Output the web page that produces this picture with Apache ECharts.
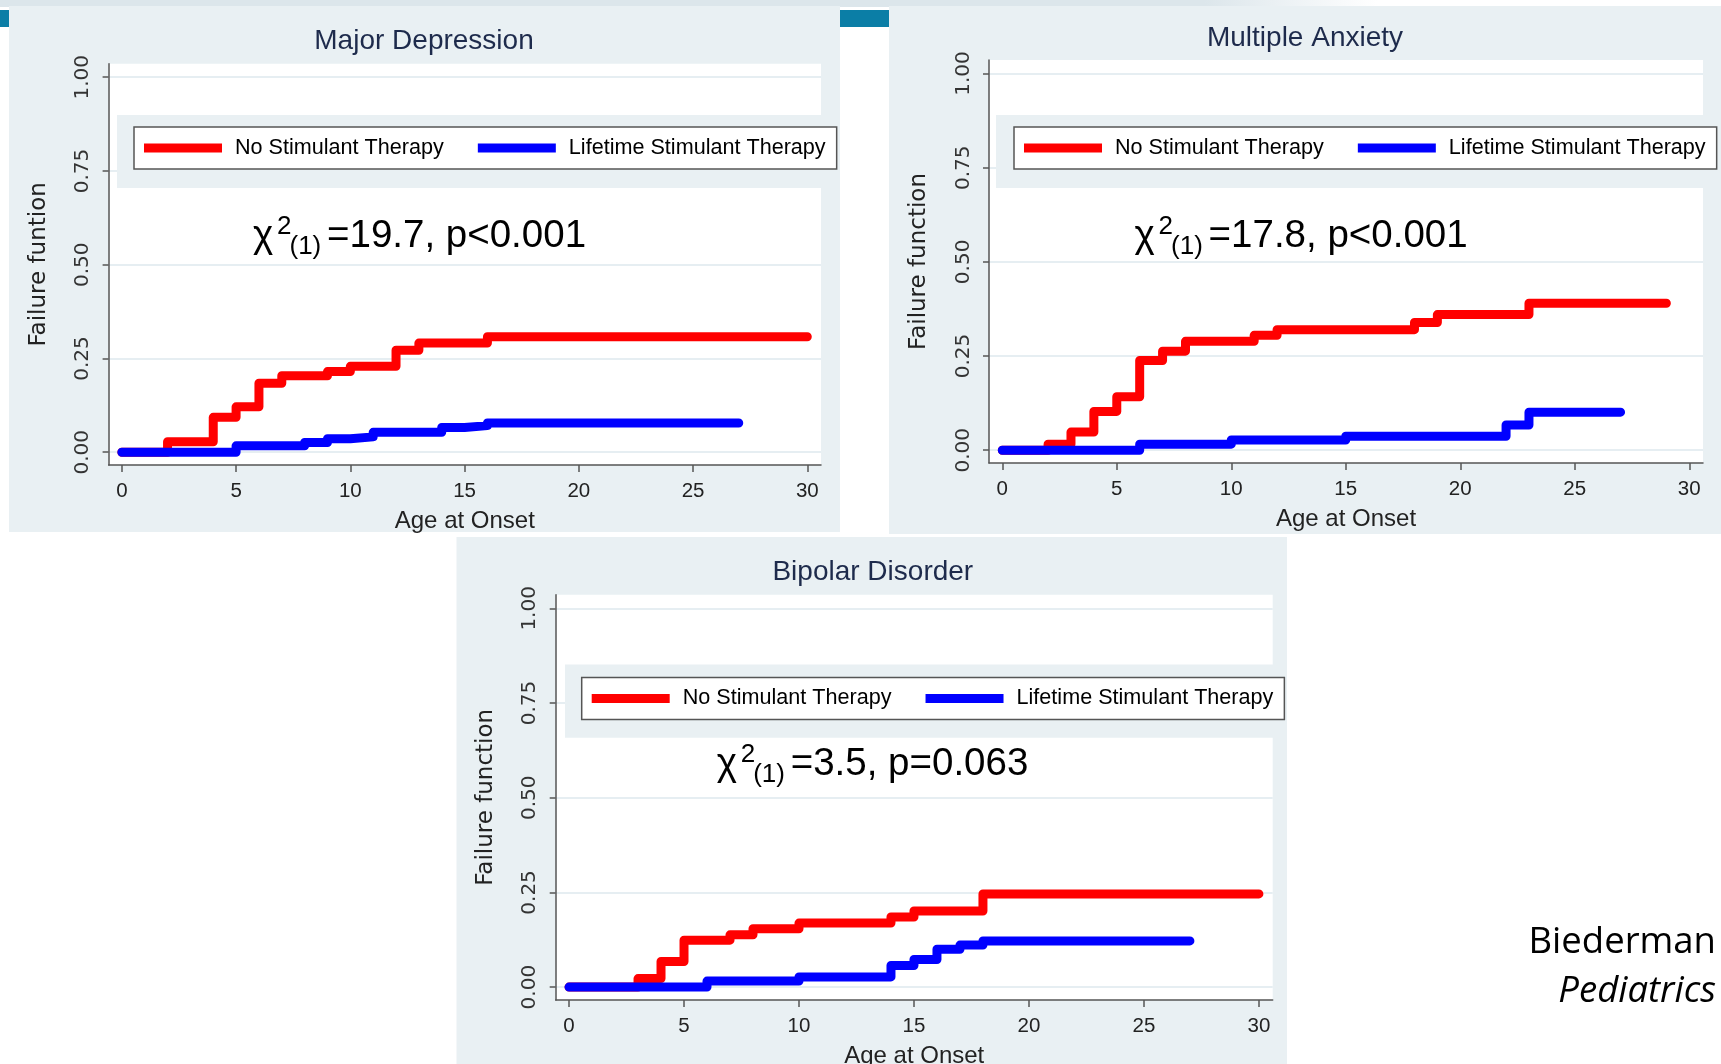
<!DOCTYPE html>
<html><head><meta charset="utf-8">
<script src="https://cdn.jsdelivr.net/npm/echarts@6/dist/echarts.min.js"></script>
<style>html,body{margin:0;padding:0;background:#fff}#c{width:1721px;height:1064px}</style>
</head><body><div id="c"></div><script>
// ---------- data ----------
const xTicks = [0, 5, 10, 15, 20, 25, 30];
const yTicks = [0, 0.25, 0.5, 0.75, 1];
const seriesNames = ['No Stimulant Therapy', 'Lifetime Stimulant Therapy'];
const panelTitles = ['Major Depression', 'Multiple Anxiety', 'Bipolar Disorder'];
const yAxisNames = ['Failure funtion', 'Failure function', 'Failure function'];
const xAxisName = 'Age at Onset';
const chiStats = ['=19.7, p<0.001', '=17.8, p<0.001', '=3.5, p=0.063'];
const citeLine1 = 'Biederman';
const citeLine2 = 'Pediatrics';

// Major Depression
const mdNoX = [0, 2, 4, 5, 6, 7, 9, 10, 12, 13, 16, 30];
const mdNoY = [0, 0.028, 0.093, 0.121, 0.184, 0.204, 0.215, 0.229, 0.272, 0.291, 0.308, 0.308];
const mdLtX = [0, 5, 8, 9, 10, 11, 14, 15, 16, 27];
const mdLtY = [0, 0.017, 0.026, 0.036, 0.041, 0.053, 0.066, 0.071, 0.078, 0.078];
// Multiple Anxiety
const maNoX = [0, 2, 3, 4, 5, 6, 7, 8, 11, 12, 18, 19, 23, 29];
const maNoY = [0, 0.016, 0.048, 0.103, 0.142, 0.238, 0.263, 0.289, 0.305, 0.320, 0.339, 0.360, 0.390, 0.390];
const maLtX = [0, 6, 10, 15, 22, 23, 27];
const maLtY = [0, 0.016, 0.027, 0.037, 0.067, 0.101, 0.101];
// Bipolar Disorder
const bpNoX = [0, 3, 4, 5, 7, 8, 10, 14, 15, 18, 30];
const bpNoY = [0, 0.0225, 0.0675, 0.124, 0.138, 0.154, 0.169, 0.185, 0.201, 0.246, 0.246];
const bpLtX = [0, 6, 10, 14, 15, 16, 17, 18, 27];
const bpLtY = [0, 0.016, 0.027, 0.057, 0.073, 0.100, 0.111, 0.122, 0.122];

const panelData = [
  [[mdNoX, mdNoY], [mdLtX, mdLtY]],
  [[maNoX, maNoY], [maLtX, maLtY]],
  [[bpNoX, bpNoY], [bpLtX, bpLtY]]
];

// ---------- layout / style ----------
const colors = ['#ff0000', '#0000ff'];
const panelBg = '#e9f0f3';
const SANS = '"Liberation Sans", Arial, sans-serif';
const WIDE = '"DejaVu Sans", Verdana, sans-serif';
const HUM = '"Open Sans", "Noto Sans", sans-serif';

const panels = [
  { grid: { left: 108.6, top: 63.7, width: 712.4, height: 401.3 }, bg: [9, 6, 831, 526],
    band: [117, 115, 722, 73], legend: [134, 127], title: [424, 41.3], chi: [253, 250] },
  { grid: { left: 989, top: 60, width: 714, height: 403 }, bg: [889, 6, 832, 528],
    band: [996, 115, 725, 73], legend: [1014, 127], title: [1305, 38.5], chi: [1134.6, 250] },
  { grid: { left: 555.7, top: 594.7, width: 717, height: 405.3 }, bg: [456.5, 537, 830.5, 527],
    band: [565, 664.5, 709, 73.3], legend: [581.7, 677.5], title: [872.8, 572.1], chi: [716.7, 778] }
];

function txt(text, x, y, font, fill, align, z) {
  return { type: 'text', x: x, y: y, z: z || 6,
    style: { text: text, font: font, fill: fill, align: align || 'left', textAlign: align || 'left',
             verticalAlign: 'middle', textVerticalAlign: 'middle' } };
}

const graphics = [];
graphics.push({ type: 'rect', z: -20, shape: { x: 0, y: 0, width: 1721, height: 7 },
  style: { fill: new echarts.graphic.LinearGradient(0, 0, 1, 0, [
    { offset: 0, color: '#dce6eb' }, { offset: 0.7, color: '#dce6eb' }, { offset: 0.8, color: '#ffffff' }]) } });
graphics.push({ type: 'rect', z: -15, shape: { x: 0, y: 10, width: 1721, height: 17 }, style: { fill: '#0b7ea6' } });

panels.forEach((p, i) => {
  graphics.push({ type: 'rect', z: -10, shape: { x: p.bg[0], y: p.bg[1], width: p.bg[2], height: p.bg[3] }, style: { fill: panelBg } });
  graphics.push({ type: 'rect', z: 1, shape: { x: p.band[0], y: p.band[1], width: p.band[2], height: p.band[3] }, style: { fill: panelBg } });
  graphics.push(txt(panelTitles[i], p.title[0], p.title[1], '28px ' + SANS, '#1e2b4c', 'center'));
  const cx = p.chi[0], cb = p.chi[1];
  graphics.push(txt('\u03c7', cx, cb - 13.3, '38.5px ' + SANS, '#000'));
  graphics.push(txt('2', cx + 24, cb - 23.5, '26px ' + SANS, '#000'));
  graphics.push(txt('(1)', cx + 36.5, cb - 3.6, '26px ' + SANS, '#000'));
  graphics.push(txt(chiStats[i], cx + 74, cb - 13.3, '38.5px ' + SANS, '#000'));
});
graphics.push(txt(citeLine1, 1716, 942.5, '36.5px ' + HUM, '#000', 'right'));
graphics.push(txt(citeLine2, 1716, 991.5, 'italic 36.5px ' + HUM, '#000', 'right'));

const axisColor = '#555';
const option = {
  animation: false,
  backgroundColor: '#fff',
  graphic: { elements: graphics },
  grid: panels.map(p => Object.assign({ show: true, backgroundColor: '#fff', borderWidth: 0,
    containLabel: false, outerBoundsMode: 'none' }, p.grid)),
  legend: panels.map(p => ({
    data: seriesNames, left: p.legend[0], top: p.legend[1], orient: 'horizontal',
    icon: 'rect', itemWidth: 78, itemHeight: 9, itemGap: 34,
    padding: [10, 11, 10, 10], borderColor: '#555', borderWidth: 1.5, backgroundColor: '#fff',
    textStyle: { fontFamily: SANS, fontSize: 21.6, color: '#000', padding: [0, 0, 0, 8] },
    selectedMode: false, z: 5
  })),
  xAxis: panels.map((p, i) => ({
    gridIndex: i, type: 'value', min: -0.58, max: 30.6,
    axisLine: { show: true, onZero: false, lineStyle: { color: axisColor, width: 1.5 } },
    axisTick: { show: true, length: 7, customValues: xTicks, lineStyle: { color: axisColor, width: 1.5 } },
    axisLabel: { customValues: xTicks, margin: 16, fontSize: 20.5, color: '#222', fontFamily: SANS },
    splitLine: { show: false },
    name: xAxisName, nameLocation: 'middle', nameGap: 44,
    nameTextStyle: { fontSize: 24, color: '#222', fontFamily: SANS }
  })),
  yAxis: panels.map((p, i) => ({
    gridIndex: i, type: 'value', min: -0.034, max: 1.036,
    axisLine: { show: true, onZero: false, lineStyle: { color: axisColor, width: 1.5 } },
    axisTick: { show: true, length: 6, customValues: yTicks, lineStyle: { color: axisColor, width: 1.5 } },
    axisLabel: { customValues: yTicks, rotate: 90, margin: 15.5, fontSize: 20, color: '#333', fontFamily: WIDE,
                 formatter: v => Number(v).toFixed(2) },
    splitLine: { show: true, lineStyle: { color: '#e6eef2', width: 2 } },
    name: yAxisNames[i], nameLocation: 'middle', nameRotate: 90, nameGap: 58,
    nameTextStyle: { fontSize: 23, color: '#222', fontFamily: WIDE }
  })),
  series: []
};

panelData.forEach((pd, i) => {
  pd.forEach((s, k) => {
    option.series.push({
      type: 'line', name: seriesNames[k], xAxisIndex: i, yAxisIndex: i, step: 'end',
      showSymbol: false, symbol: 'none', z: 3 + k,
      data: s[0].map((x, j) => [x, s[1][j]]),
      color: colors[k],
      itemStyle: { color: colors[k] },
      lineStyle: { width: 9, color: colors[k], cap: 'round', join: 'round' }
    });
  });
});

const chart = echarts.init(document.getElementById('c'), null, { renderer: 'canvas' });
chart.setOption(option);
</script></body></html>
